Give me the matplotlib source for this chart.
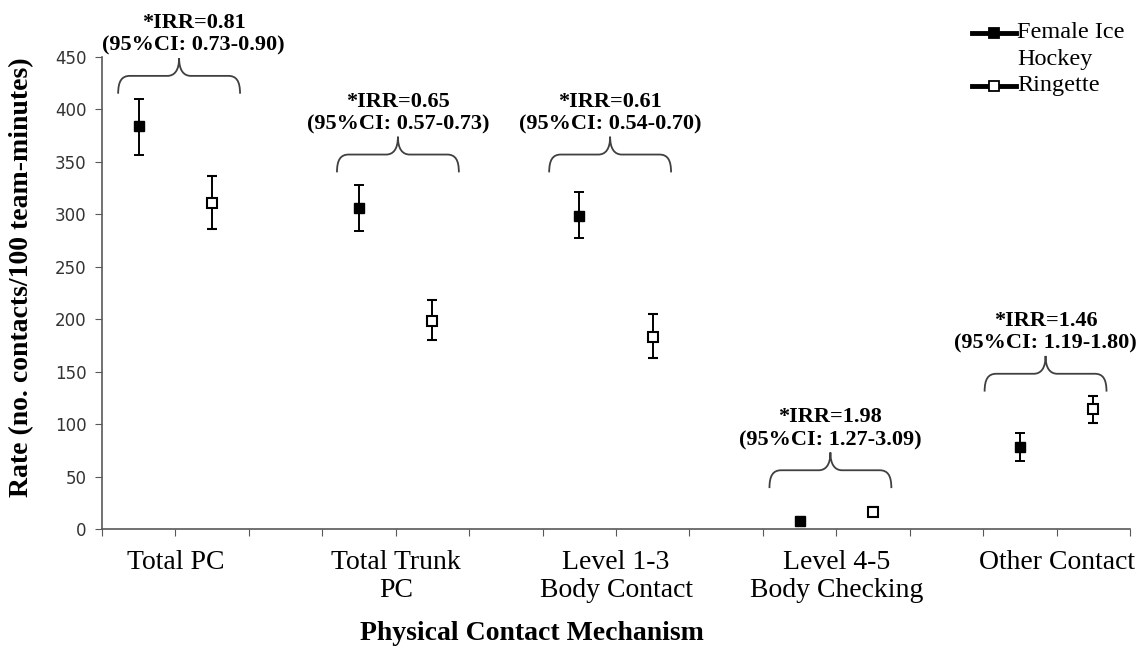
import matplotlib
matplotlib.use("Agg")
import matplotlib.pyplot as plt
import numpy as np
from matplotlib.path import Path
from matplotlib.patches import PathPatch
from matplotlib.lines import Line2D

# data
groups = ["Total PC", "Total Trunk\nPC", "Level 1-3\nBody Contact",
          "Level 4-5\nBody Checking", "Other Contact"]
hockey_rate = [384, 306, 298, 8, 78]
hockey_lo = [357, 284, 277, 6, 65]
hockey_hi = [410, 328, 321, 11, 92]
ringette_rate = [311, 198, 183, 16, 114]
ringette_lo = [286, 180, 163, 12, 101]
ringette_hi = [337, 218, 205, 21, 127]
irr_text = ["*IRR=0.81\n(95%CI: 0.73-0.90)",
            "*IRR=0.65\n(95%CI: 0.57-0.73)",
            "*IRR=0.61\n(95%CI: 0.54-0.70)",
            "*IRR=1.98\n(95%CI: 1.27-3.09)",
            "*IRR=1.46\n(95%CI: 1.19-1.80)"]
# brace placement (layout only): bottom level and nudges from group centre
brace_base = [415, 340, 340, 39, 131]
brace_shift = [0.05, 0.03, -0.08, -0.08, -0.15]
text_shift = [0.2, 0, 0, 0, 0]

SERIF = "Liberation Serif"


def brace(ax, x0, x1, yb, h, dx=0.16):
    xm = (x0 + x1) / 2
    yl = yb + h
    yp = yb + 2 * h
    verts = [
        (x0, yb), (x0, yb + h * 0.7), (x0 + dx * 0.3, yl), (x0 + dx, yl),
        (xm - dx, yl),
        (xm - dx * 0.4, yl), (xm, yl + h * 0.3), (xm, yp),
        (xm, yl + h * 0.3), (xm + dx * 0.4, yl), (xm + dx, yl),
        (x1 - dx, yl),
        (x1 - dx * 0.3, yl), (x1, yb + h * 0.7), (x1, yb),
    ]
    codes = [Path.MOVETO, Path.CURVE4, Path.CURVE4, Path.CURVE4,
             Path.LINETO,
             Path.CURVE4, Path.CURVE4, Path.CURVE4,
             Path.CURVE4, Path.CURVE4, Path.CURVE4,
             Path.LINETO,
             Path.CURVE4, Path.CURVE4, Path.CURVE4]
    patch = PathPatch(Path(verts, codes), fill=False, edgecolor="#404040",
                      lw=1.3, clip_on=False)
    ax.add_patch(patch)
    return xm, yp


def main():
    fig = plt.figure(figsize=(11.37, 6.55), dpi=100)
    ax = fig.add_axes([102 / 1137, 126 / 655, 1028 / 1137, 472 / 655])

    idx = np.arange(len(groups))
    xf = idx * 3 + 0.5
    xr = idx * 3 + 1.5

    hr = np.array(hockey_rate)
    rr = np.array(ringette_rate)
    ferr = [hr - np.array(hockey_lo), np.array(hockey_hi) - hr]
    rerr = [rr - np.array(ringette_lo), np.array(ringette_hi) - rr]

    ax.errorbar(xf, hr, yerr=ferr, fmt="s", color="black", ms=7.5,
                mfc="black", mec="black", ecolor="black", elinewidth=1.4,
                capsize=3.6, capthick=1.4, zorder=3)
    ax.errorbar(xr, rr, yerr=rerr, fmt="s", color="black", ms=7.5,
                mfc="white", mec="black", mew=1.5, ecolor="black",
                elinewidth=1.4, capsize=3.6, capthick=1.4, zorder=3)

    ax.set_xlim(0, 14)
    ax.set_ylim(0, 450)
    ax.set_yticks(np.arange(0, 451, 50))
    ax.xaxis.remove_overlapping_locs = False
    ax.set_xticks(np.arange(0, 15))
    ax.set_xticklabels([])
    ax.set_xticks(idx * 3 + 1, minor=True)
    ax.set_xticklabels(groups, minor=True, fontsize=20, family=SERIF,
                       linespacing=1.15)
    ax.tick_params(axis="x", which="minor", length=0, pad=15)
    ax.tick_params(axis="x", which="major", length=5, color="#595959",
                   direction="out")
    ax.tick_params(axis="y", length=5, color="#595959", labelsize=12,
                   labelcolor="#333333", pad=6)
    for s in ["top", "right"]:
        ax.spines[s].set_visible(False)
    for s in ["left", "bottom"]:
        ax.spines[s].set_color("#595959")
        ax.spines[s].set_linewidth(1.2)

    # IRR braces and labels
    for i in idx:
        c = idx[i] * 3 + 1 + brace_shift[i]
        xm, yp = brace(ax, c - 0.83, c + 0.83, brace_base[i], 17)
        ax.text(xm + text_shift[i], yp + 2, irr_text[i], ha="center",
                va="bottom", fontsize=16, fontweight="bold", family=SERIF,
                linespacing=1.2, clip_on=False)

    fig.text(22 / 1137, 1 - 277 / 655,
             "Rate (no. contacts/100 team-minutes)", rotation=90,
             ha="center", va="center", fontsize=20, fontweight="bold",
             family=SERIF)
    fig.text(532 / 1137, 1 - 634 / 655, "Physical Contact Mechanism",
             ha="center", va="center", fontsize=20, fontweight="bold",
             family=SERIF)

    # legend drawn by hand so the handle sits on the first text line
    for yy, face in [(33, "black"), (86, "white")]:
        yf = 1 - yy / 655
        fig.add_artist(Line2D([972 / 1137, 1016 / 1137], [yf, yf], lw=3.5,
                              color="black", transform=fig.transFigure))
        fig.add_artist(Line2D([993.5 / 1137], [yf], marker="s", ms=7,
                              mfc=face, mec="black", mew=1.3,
                              transform=fig.transFigure))
    for yy, t in [(33, "Female Ice"), (60, "Hockey"), (86, "Ringette")]:
        fig.text(1017 / 1137, 1 - yy / 655, t, ha="left", va="center",
                 fontsize=17.5, family=SERIF)

    fig.savefig("out.png", dpi=100)


if __name__ == "__main__":
    main()
